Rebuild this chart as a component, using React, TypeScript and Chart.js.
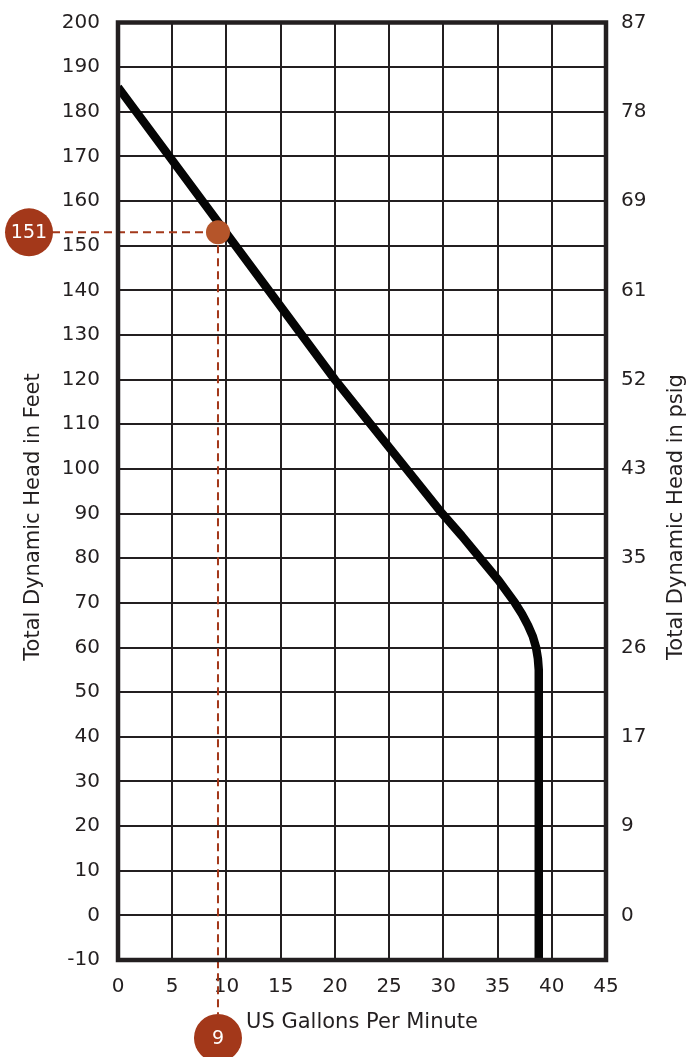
import React, { useEffect, useRef } from "react";
import { Chart, registerables } from "chart.js";

Chart.register(...registerables);

// Pump curve: flow (US gpm) vs total dynamic head (feet)
const flowGpm = [0, 20.0, 29.9, 31.7, 33.4, 35.1, 36.6, 37.25, 37.8, 38.25, 38.55, 38.72, 38.8, 38.8];
const headFeet = [185.5, 120, 90, 85, 80, 75, 70, 67.5, 65, 62.5, 60, 57.5, 55, -10];

// Right axis: psig labels placed at these feet values
const psigTickFeet = [0, 20, 40, 60, 80, 100, 120, 140, 160, 180, 200];
const psigLabels = ["0", "9", "17", "26", "35", "43", "52", "61", "69", "78", "87"];

// Operating point
const pointGpm = [9.22];
const pointFeet = [153];
const pointFeetLabel = ["151"];
const pointGpmLabel = ["9"];

const xTitle = "US Gallons Per Minute";
const yLeftTitle = "Total Dynamic Head in Feet";
const yRightTitle = "Total Dynamic Head in psig";

const FONT = "'DejaVu Sans', sans-serif";
const INK = "#231f20";
const RUST = "#a3381a";
const ORANGE = "#b5552a";

export default function App() {
  const ref = useRef<HTMLCanvasElement | null>(null);

  useEffect(() => {
    if (!ref.current) return;

    const overlay = {
      id: "overlay",
      beforeDatasetsDraw(chart: any) {
        const { ctx, scales } = chart;
        const px = scales.x.getPixelForValue(pointGpm[0]);
        const py = scales.y.getPixelForValue(pointFeet[0]);
        ctx.save();
        ctx.strokeStyle = RUST;
        ctx.lineWidth = 2;
        ctx.setLineDash([8, 5]);
        ctx.beginPath();
        ctx.moveTo(52, py);
        ctx.lineTo(px, py);
        ctx.moveTo(px, py);
        ctx.lineTo(px, 1014);
        ctx.stroke();
        ctx.restore();
      },
      afterDraw(chart: any) {
        const { ctx, chartArea, scales } = chart;
        const px = scales.x.getPixelForValue(pointGpm[0]);
        const py = scales.y.getPixelForValue(pointFeet[0]);
        ctx.save();
        // frame
        ctx.strokeStyle = INK;
        ctx.lineWidth = 4.5;
        ctx.strokeRect(chartArea.left, chartArea.top, chartArea.right - chartArea.left, chartArea.bottom - chartArea.top);
        // bubbles
        const bubbles = [
          { x: 29, y: py, t: pointFeetLabel[0] },
          { x: px, y: 1038, t: pointGpmLabel[0] },
        ];
        for (const b of bubbles) {
          ctx.fillStyle = RUST;
          ctx.beginPath();
          ctx.arc(b.x, b.y, 24, 0, Math.PI * 2);
          ctx.fill();
          ctx.fillStyle = "#ffffff";
          ctx.font = `19px ${FONT}`;
          ctx.textAlign = "center";
          ctx.textBaseline = "middle";
          ctx.fillText(b.t, b.x, b.y + 1);
        }
        // vertical axis titles (both read bottom to top)
        const titles = [
          { x: 34, t: yLeftTitle },
          { x: 677, t: yRightTitle },
        ];
        for (const tt of titles) {
          ctx.save();
          ctx.translate(tt.x, 517);
          ctx.rotate(-Math.PI / 2);
          ctx.fillStyle = INK;
          ctx.font = `21px ${FONT}`;
          ctx.textAlign = "center";
          ctx.textBaseline = "middle";
          ctx.fillText(tt.t, 0, 0);
          ctx.restore();
        }
        ctx.restore();
      },
    };

    const tickFont = { family: FONT, size: 20 };

    const chart = new Chart(ref.current, {
      type: "scatter",
      data: {
        datasets: [
          {
            label: "point",
            data: pointGpm.map((g, i) => ({ x: g, y: pointFeet[i] })),
            pointRadius: 12,
            pointBackgroundColor: ORANGE,
            pointBorderWidth: 0,
            showLine: false,
            order: 0,
          },
          {
            label: "curve",
            data: flowGpm.map((g, i) => ({ x: g, y: headFeet[i] })),
            showLine: true,
            borderColor: "#050505",
            borderWidth: 8.5,
            pointRadius: 0,
            tension: 0,
            borderCapStyle: "butt",
            borderJoinStyle: "round",
            order: 1,
          },
        ],
      },
      options: {
        responsive: false,
        animation: false,
        layout: { padding: { top: 22.5, left: 0, right: 0, bottom: 0 } },
        plugins: { legend: { display: false }, tooltip: { enabled: false } },
        scales: {
          x: {
            type: "linear",
            min: 0,
            max: 45,
            ticks: { stepSize: 5, color: INK, font: tickFont, padding: 15 },
            grid: { color: INK, lineWidth: 2, drawTicks: false },
            border: { display: false },
            title: { display: true, text: xTitle, color: INK, font: { family: FONT, size: 21 }, padding: { top: 0, bottom: 22 } },
            afterFit: (s: any) => { s.height = 97; },
          },
          y: {
            type: "linear",
            position: "left",
            min: -10,
            max: 200,
            ticks: { stepSize: 10, color: INK, font: tickFont, padding: 4 },
            grid: { color: INK, lineWidth: 2, drawTicks: true, tickLength: 14, tickColor: "rgba(0,0,0,0)" },
            border: { display: false },
            afterFit: (s: any) => { s.width = 118; },
          },
          y2: {
            type: "linear",
            position: "right",
            min: -10,
            max: 200,
            afterBuildTicks: (s: any) => { s.ticks = psigTickFeet.map((v) => ({ value: v })); },
            ticks: {
              color: INK,
              font: tickFont,
              padding: 4,
              callback: (_v: any, i: number) => psigLabels[i],
            },
            grid: { display: true, drawOnChartArea: false, drawTicks: true, tickLength: 11, color: "rgba(0,0,0,0)", tickColor: "rgba(0,0,0,0)" },
            border: { display: false },
            afterFit: (s: any) => { s.width = 83; },
          },
        },
      },
      plugins: [overlay],
    } as any);

    return () => chart.destroy();
  }, []);

  return (
    <div style={{ position: "absolute", left: 0, top: 0, width: 689, height: 1057, background: "#fff" }}>
      <canvas ref={ref} width={689} height={1057} style={{ width: 689, height: 1057, display: "block" }} />
    </div>
  );
}
